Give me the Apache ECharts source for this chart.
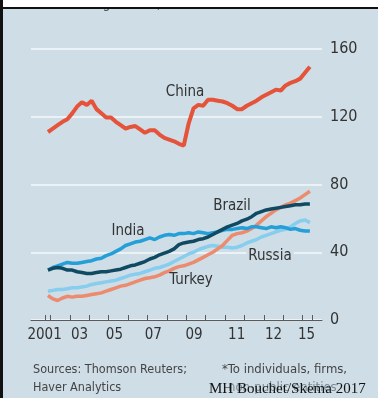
<!DOCTYPE html>
<html>
<head>
<meta charset="utf-8">
<script src="https://cdn.jsdelivr.net/npm/echarts@6/dist/echarts.min.js"></script>
<style>
  html, body { margin: 0; padding: 0; background: #cedde6; }
  #chart { width: 378px; height: 398px; }
</style>
</head>
<body>
<div id="chart"></div>
<script>
// quarterly readings, first point 2001 Q4
const firstQuarter = 2001.875;
const china  = [111,113,115,117,118.5,122,126,128.5,127,129.5,124.5,122,119.5,119.5,117,115,113,114,114.5,112.5,110.5,112,112,109.5,107.5,106.5,105.5,104,103,116,125,127,126.5,130,130,129.5,129,128,126.5,124.5,124.5,126.5,128,129.5,131.5,133,134.5,136,135.5,138.5,140,141,142.5,146,149.5];
const india  = [29.5,31,32,33,34,33.5,33.5,34,34.5,35,36,36.5,38,39,40.5,42,44,45,46,46.5,47.5,48.5,47.5,49,50,50.5,50,51,51,51.5,51,52,51.5,51,51.5,52,53,53.5,53.5,54,54.5,54,55,55,54.5,54,55,54.5,55,54.5,53.5,54,53,52.5,52.5];
const brazil = [29.5,30.5,31,30.5,29.5,29.5,28.5,28,27.5,27.5,28,28.5,28.5,29,29.5,30,31,32,32.5,33.5,34.5,36,37,38.5,39.5,40.5,42,44.5,45.5,46,46.5,47.5,48,49,50.5,52,53.5,55,56,57,58.5,59.5,61,63,64,65,65.5,66,66.5,67,67.5,68,68,68.5,68.5];
const russia = [17,17.5,18,18,18.5,19,19,19.5,20,21,21.5,22,22.5,23,23.5,24.5,25.5,26.5,27,27.5,28.5,29.5,30.5,31,32,33,34.5,36,37.5,39,40,41.5,42.5,43.5,44,43.5,43,43,42.5,43,44,45.5,46.5,47.5,49,50,51,52,53,53.5,55,57,58.5,59,57.5];
const turkey = [14.5,12.5,11.5,13,14,13.5,14,14,14.5,15,15.5,16,17,18,19,20,20.5,21.5,22.5,23.5,24.5,25,25.5,26.5,28,29,30.5,31.5,32,33,34,35.5,37,38.5,40,42,44,47,50,51,51.5,52.5,54,56,58.5,61,63,65,66.5,68,69,70.5,72,74,76];

const tickYears = [2001.72,2002,2003,2004,2005,2006,2007,2008,2009,2010,2011,2012,2013,2014,2015,2015.5];
const labelYears = [2001.7,2003.5,2005.3,2007.3,2009.4,2011.6,2013.5,2015.2];
const tickLabels = ['2001','03','05','07','09','11','12','15'];

const font = "'Liberation Sans Narrow','DejaVu Sans Condensed',sans-serif";
const bg = '#cedde6';

function pairs(arr) {
  return arr.map((v, i) => [firstQuarter + i * 0.25, v]);
}

const mChart = echarts.init(document.getElementById('chart'));

const option = {
  backgroundColor: bg,
  animation: false,
  grid: { left: 31, right: 56, top: 49, bottom: 78 },
  xAxis: {
    type: 'value',
    min: 2001,
    max: 2016,
    splitLine: { show: false },
    axisLine: { show: true, lineStyle: { color: '#5a5a5a', width: 1 } },
    axisTick: {
      show: true, inside: true, length: 5,
      customValues: tickYears,
      lineStyle: { color: '#5a5a5a', width: 1 }
    },
    axisLabel: {
      customValues: labelYears,
      formatter: (v) => tickLabels[labelYears.indexOf(v)],
      color: '#333', fontSize: 15, fontFamily: font, margin: 8
    }
  },
  yAxis: {
    type: 'value',
    position: 'right',
    min: 0,
    max: 160,
    interval: 40,
    axisLine: { show: false },
    axisTick: { show: false },
    splitLine: { show: true, lineStyle: { color: '#f4f9fb', width: 1.5 } },
    axisLabel: { color: '#333', fontSize: 16, fontFamily: font, margin: 8 }
  },
  series: [
    { name: 'Russia', type: 'line', data: pairs(russia), showSymbol: false, lineStyle: { color: '#86cdee', width: 3.5 } },
    { name: 'Turkey', type: 'line', data: pairs(turkey), showSymbol: false, lineStyle: { color: '#ec8b6e', width: 3.5 } },
    { name: 'India', type: 'line', data: pairs(india), showSymbol: false, lineStyle: { color: '#249fd7', width: 3.5 } },
    { name: 'Brazil', type: 'line', data: pairs(brazil), showSymbol: false, lineStyle: { color: '#0f4a62', width: 3.5 } },
    { name: 'China', type: 'line', data: pairs(china), showSymbol: false, lineStyle: { color: '#e5533a', width: 4 } }
  ],
  graphic: [
    // cut-off subtitle above the frame
    { type: 'text', left: 33, top: -3, z: 1, style: { text: 'Outstanding credit*, % of GDP', fill: '#555', font: '14px ' + font } },
    { type: 'rect', shape: { x: 0, y: 0, width: 378, height: 7 }, style: { fill: '#ffffff' }, z: 50 },
    { type: 'rect', shape: { x: 0, y: 7, width: 378, height: 2 }, style: { fill: '#111' }, z: 51 },
    { type: 'rect', shape: { x: 0, y: 0, width: 3, height: 398 }, style: { fill: '#111' }, z: 51 },
    // series names
    { type: 'text', x: 185, y: 92, z: 20, style: { text: 'China', fill: '#333', font: '15px ' + font, align: 'center', verticalAlign: 'middle' } },
    { type: 'text', x: 128, y: 231, z: 20, style: { text: 'India', fill: '#333', font: '15px ' + font, align: 'center', verticalAlign: 'middle' } },
    { type: 'text', x: 232, y: 206, z: 20, style: { text: 'Brazil', fill: '#333', font: '15px ' + font, align: 'center', verticalAlign: 'middle' } },
    { type: 'text', x: 270, y: 256, z: 20, style: { text: 'Russia', fill: '#333', font: '15px ' + font, align: 'center', verticalAlign: 'middle', backgroundColor: bg, padding: [0, 2] } },
    { type: 'text', x: 191, y: 280, z: 20, style: { text: 'Turkey', fill: '#333', font: '15px ' + font, align: 'center', verticalAlign: 'middle' } },
    // footer
    { type: 'text', x: 33, y: 370, z: 20, style: { text: 'Sources: Thomson Reuters;', fill: '#444', font: '12.5px ' + font, verticalAlign: 'middle' } },
    { type: 'text', x: 33, y: 388, z: 20, style: { text: 'Haver Analytics', fill: '#444', font: '12.5px ' + font, verticalAlign: 'middle' } },
    { type: 'text', x: 222, y: 370, z: 20, style: { text: '*To individuals, firms,', fill: '#444', font: '13px ' + font, verticalAlign: 'middle' } },
    { type: 'text', x: 228, y: 388, z: 20, style: { text: 'non-public entities', fill: '#7a8a92', font: '13px ' + font, verticalAlign: 'middle' } },
    { type: 'text', x: 209, y: 389, z: 21, style: { text: 'MH Bouchet/Skema 2017', fill: '#111', font: '15px "Liberation Serif", serif', verticalAlign: 'middle' } }
  ]
};

mChart.setOption(option);
</script>
</body>
</html>
